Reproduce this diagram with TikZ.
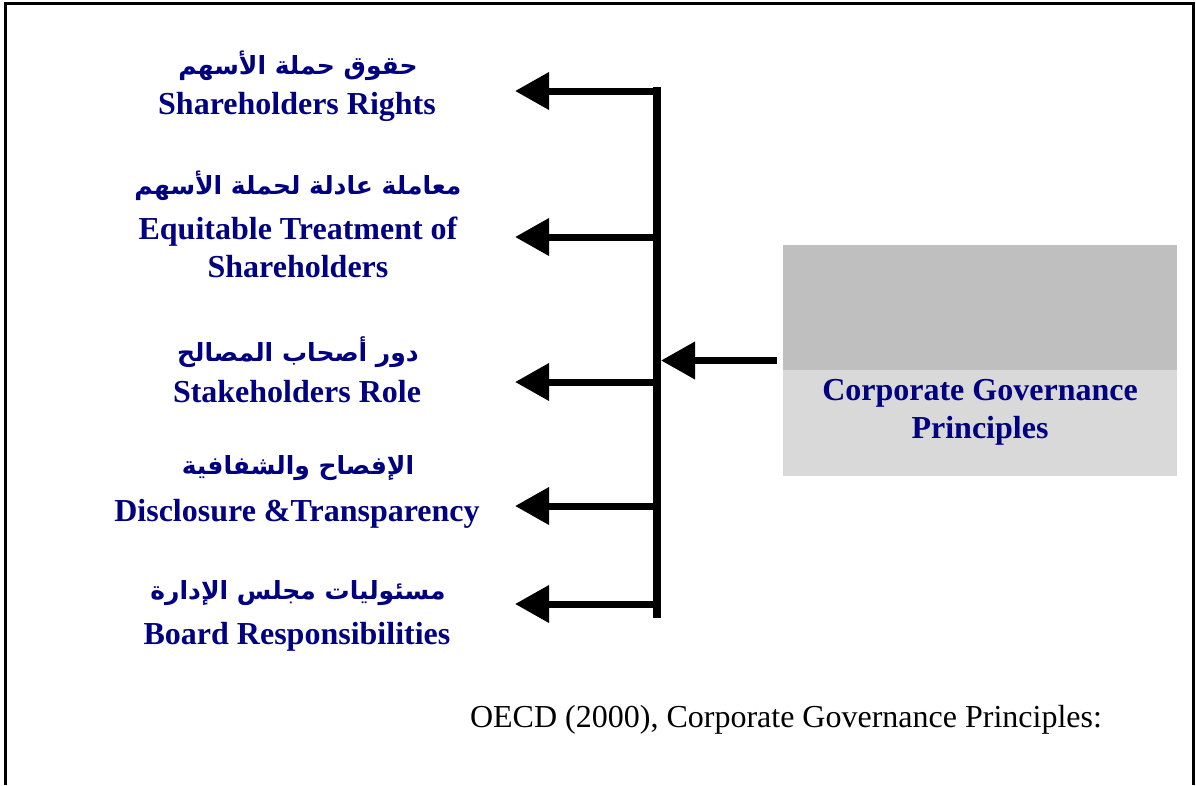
\documentclass[tikz,border=0pt]{standalone}
\usepackage{fontspec}
\setmainfont{Liberation Serif}
\newfontfamily\arabicfont[Script=Arabic]{DejaVu Sans}
\TeXXeTstate=1
\usetikzlibrary{arrows.meta}
\definecolor{navytext}{RGB}{0,0,128}
\definecolor{boxhigh}{RGB}{191,191,191}
\definecolor{boxlow}{RGB}{217,217,217}

\begin{document}
\begin{tikzpicture}[x=1pt,y=-1pt,
  entext/.style={font=\fontsize{32}{38}\selectfont\bfseries,text=navytext,align=center,inner sep=0pt},
  artext/.style={font=\arabicfont\fontsize{25}{30}\selectfont\bfseries,text=navytext,inner sep=0pt},
  arrowline/.style={line width=7pt,-{Triangle[length=34pt,width=36pt]}}]
  \useasboundingbox (0,0) rectangle (1196,785);
  % frame, open at the bottom
  \draw[line width=3pt] (5,785)--(5,3)--(1193,3)--(1193,785);
  % principles box
  \node[fill=boxlow,minimum width=394pt,minimum height=231pt,inner sep=0pt] (cgp) at (980,360.5) {};
  \fill[boxhigh] (783,245) rectangle (1177,370);
  \node[entext] (cgptext) at (980,412) {Corporate Governance\\Principles};
  % the bar
  \coordinate (bartop) at (657,87);
  \coordinate (barbot) at (657,618);
  \draw[line width=8pt] (bartop)--(barbot);
  \coordinate (hub) at (661,360.5);
  \draw[arrowline] ([xshift=-6pt]cgp.west)--(hub);
  % the five principles
  \coordinate (j1) at (661,91);  \coordinate (t1) at (515,91);
  \coordinate (j2) at (661,237); \coordinate (t2) at (515,237);
  \coordinate (j3) at (661,382); \coordinate (t3) at (515,382);
  \coordinate (j4) at (661,506); \coordinate (t4) at (515,506);
  \coordinate (j5) at (661,604); \coordinate (t5) at (515,604);
  \draw[arrowline] (j1)--(t1);
  \draw[arrowline] (j2)--(t2);
  \draw[arrowline] (j3)--(t3);
  \draw[arrowline] (j4)--(t4);
  \draw[arrowline] (j5)--(t5);
  \node[artext] (ar1) at (298,66) {\beginR حقوق حملة الأسهم\endR};
  \node[entext] (en1) at (297,107) {Shareholders Rights};
  \node[artext] (ar2) at (298,186) {\beginR معاملة عادلة لحملة الأسهم\endR};
  \node[entext] (en2) at (298,247) {Equitable Treatment of\\Shareholders};
  \node[artext] (ar3) at (298,352) {\beginR دور أصحاب المصالح\endR};
  \node[entext] (en3) at (297,392) {Stakeholders Role};
  \node[artext] (ar4) at (298,468) {\beginR الإفصاح والشفافية\endR};
  \node[entext] (en4) at (297,514) {Disclosure \&Transparency};
  \node[artext] (ar5) at (298,593) {\beginR مسئوليات مجلس الإدارة\endR};
  \node[entext] (en5) at (297,637) {Board Responsibilities};
  \node[font=\fontsize{32}{38}\selectfont,inner sep=0pt] (oecd) at (786,720) {OECD (2000), Corporate Governance Principles:};
\end{tikzpicture}
\end{document}
